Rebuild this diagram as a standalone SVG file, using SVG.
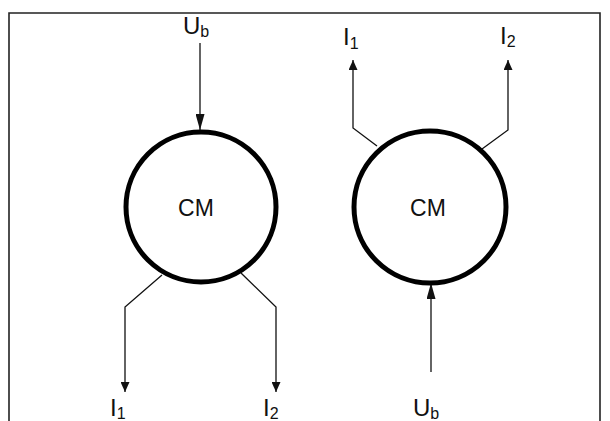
<svg xmlns="http://www.w3.org/2000/svg" width="610" height="421" viewBox="0 0 610 421">
<style>
.frame{fill:none;stroke:#222;stroke-width:1.6}
.node{fill:#fff;stroke:#000;stroke-width:5}
.conn{fill:none;stroke:#111;stroke-width:1.3}
.lbl{font-family:"Liberation Sans",Arial,sans-serif;font-size:24px;fill:#111}
.sub{font-size:16px}
.cm{font-family:"Liberation Sans",Arial,sans-serif;font-size:23px;fill:#111;text-anchor:middle}
</style>
<defs>
<marker id="ah" viewBox="0 0 10 9" refX="10" refY="4.5" markerWidth="10" markerHeight="9" markerUnits="userSpaceOnUse" orient="auto">
<path d="M0,0 L10,4.5 L0,9 Z" fill="#111"/>
</marker>
<marker id="ahl" viewBox="0 0 16 9" refX="16" refY="4.5" markerWidth="16" markerHeight="9" markerUnits="userSpaceOnUse" orient="auto">
<path d="M0,0 L16,4.5 L0,9 Z" fill="#111"/>
</marker>
</defs>
<rect width="610" height="421" fill="#fff"/>
<path class="frame" d="M9,421 V13 H600 V421"/>
<g id="connectors">
<path class="conn" d="M200,43 V130" marker-end="url(#ahl)"/>
<path class="conn" d="M162,275 L125,307 V392" marker-end="url(#ah)"/>
<path class="conn" d="M241,273 L276,307 V392" marker-end="url(#ah)"/>
<path class="conn" d="M377,146 L353,128 V60" marker-end="url(#ah)"/>
<path class="conn" d="M482,149 L508,130 V60" marker-end="url(#ah)"/>
<path class="conn" d="M431,372 V283" marker-end="url(#ahl)"/>
</g>
<g id="cm-left">
<circle class="node" cx="201" cy="207" r="75"/>
<text class="cm" x="196" y="216">CM</text>
</g>
<g id="cm-right">
<circle class="node" cx="430" cy="207" r="76"/>
<text class="cm" x="428" y="216">CM</text>
</g>
<g id="label-ub-top"><text class="lbl" x="183" y="34">U<tspan class="sub" dy="3">b</tspan></text></g>
<g id="label-i1-left"><text class="lbl" x="110" y="416">I<tspan class="sub" dy="3">1</tspan></text></g>
<g id="label-i2-left"><text class="lbl" x="263" y="416">I<tspan class="sub" dy="3">2</tspan></text></g>
<g id="label-i1-right"><text class="lbl" x="343" y="45">I<tspan class="sub" dy="4">1</tspan></text></g>
<g id="label-i2-right"><text class="lbl" x="500" y="44">I<tspan class="sub" dy="3">2</tspan></text></g>
<g id="label-ub-bottom"><text class="lbl" x="413" y="416">U<tspan class="sub" dy="3">b</tspan></text></g>
</svg>
